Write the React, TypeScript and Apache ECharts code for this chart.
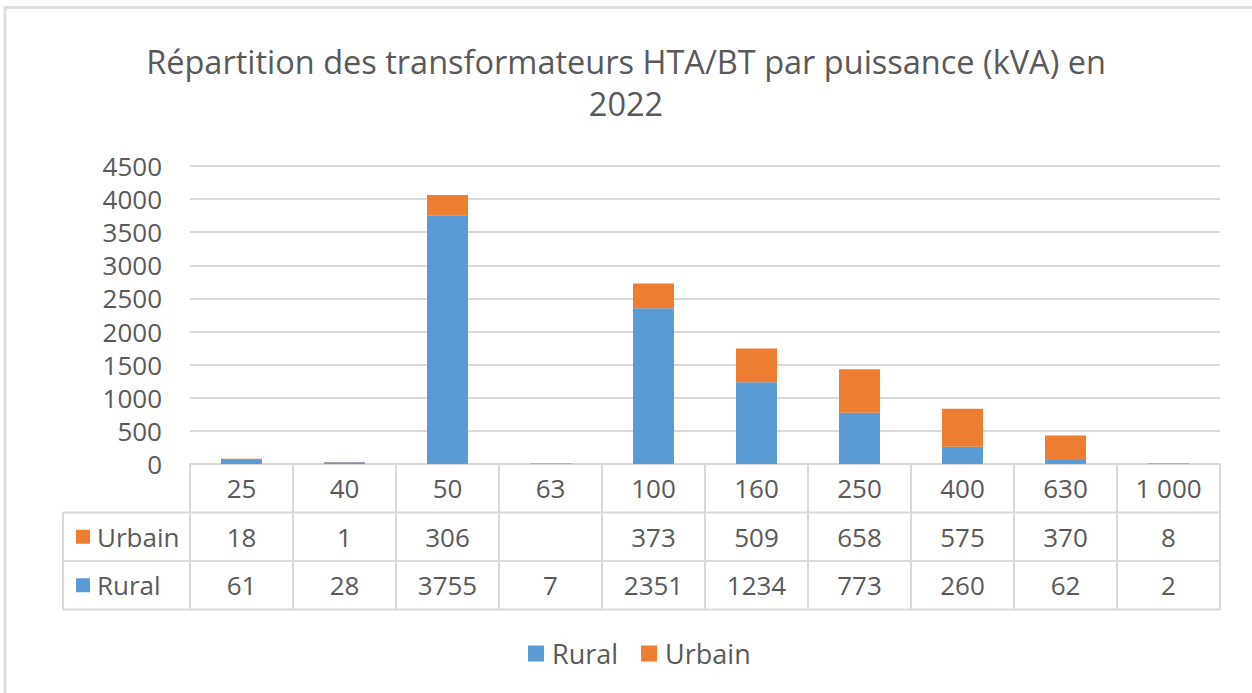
import React, { useEffect, useRef } from "react";
import * as echarts from "echarts";

const titleLines = ["Répartition des transformateurs HTA/BT par puissance (kVA) en", "2022"];
const categories = ["25", "40", "50", "63", "100", "160", "250", "400", "630", "1 000"];
const urbain: (number | null)[] = [18, 1, 306, null, 373, 509, 658, 575, 370, 8];
const rural: (number | null)[] = [61, 28, 3755, 7, 2351, 1234, 773, 260, 62, 2];
const yMin = 0;
const yMax = 4500;
const yInterval = 500;

const BLUE = "#5B9BD5";
const ORANGE = "#ED7D31";
const TEXT = "#595959";
const LINE = "#D9D9D9";
const FONT = "'Open Sans', sans-serif";

export default function App() {
  const ref = useRef<HTMLDivElement>(null);
  useEffect(() => {
    document.body.style.margin = "0";
    const chart = echarts.init(ref.current!, null, { renderer: "svg" });
    chart.setOption({
      animation: false,
      backgroundColor: "#ffffff",
      textStyle: { fontFamily: FONT },
      title: {
        text: titleLines.join("\n"),
        left: "center",
        top: 35,
        padding: [5, 5, 5, 17],
        textStyle: { fontFamily: FONT, fontSize: 32.5, fontWeight: "normal", color: TEXT, lineHeight: 42 },
      },
      legend: {
        data: ["Rural", "Urbain"],
        bottom: 21,
        left: 523,
        itemWidth: 16,
        itemHeight: 16,
        itemGap: 23,
        icon: "rect",
        textStyle: { fontFamily: FONT, fontSize: 27, color: TEXT, padding: [0, 0, 0, 3] },
      },
      grid: { left: 190, right: 32, top: 166, height: 298, containLabel: false },
      xAxis: {
        type: "category",
        data: categories,
        axisLabel: { show: false },
        axisTick: { show: false },
        axisLine: { show: true, lineStyle: { color: LINE, width: 2 } },
      },
      yAxis: {
        type: "value",
        min: yMin,
        max: yMax,
        interval: yInterval,
        axisLabel: {
          fontFamily: FONT,
          fontSize: 26,
          lineHeight: 30,
          color: TEXT,
          margin: 28,
          formatter: (v: number) => String(v),
        },
        axisLine: { show: false },
        axisTick: { show: false },
        splitLine: { lineStyle: { color: LINE, width: 2 } },
      },
      series: [
        { name: "Rural", type: "bar", stack: "total", data: rural, barWidth: 41, itemStyle: { color: BLUE } },
        { name: "Urbain", type: "bar", stack: "total", data: urbain, barWidth: 41, itemStyle: { color: ORANGE } },
      ],
    });

    const centers = categories.map((_, i) => chart.convertToPixel({ xAxisIndex: 0 }, i) as number);
    const colW = centers.length > 1 ? centers[1] - centers[0] : 100;
    const x0 = centers[0] - colW / 2;
    const x1 = centers[centers.length - 1] + colW / 2;
    const yTop = chart.convertToPixel({ yAxisIndex: 0 }, 0) as number;
    const rowH = 48.5;
    const labelLeft = 63;
    const rows = [
      { name: "Urbain", color: ORANGE, values: urbain },
      { name: "Rural", color: BLUE, values: rural },
    ];
    const lineStyle = { stroke: LINE, lineWidth: 2 };
    const cellFont = `26px ${FONT}`;
    const els: any[] = [];
    els.push({ type: "rect", shape: { x: 5, y: 7.5, width: 1300, height: 720 }, style: { fill: "none", stroke: "#DEDEDE", lineWidth: 3 }, silent: true });
    for (let r = 1; r <= 3; r++) {
      const y = yTop + r * rowH;
      els.push({ type: "line", shape: { x1: labelLeft, y1: y, x2: x1, y2: y }, style: lineStyle });
    }
    els.push({ type: "line", shape: { x1: labelLeft, y1: yTop + rowH, x2: labelLeft, y2: yTop + 3 * rowH }, style: lineStyle });
    for (let i = 0; i <= categories.length; i++) {
      const x = x0 + i * colW;
      els.push({ type: "line", shape: { x1: x, y1: yTop, x2: x, y2: yTop + 3 * rowH }, style: lineStyle });
    }
    categories.forEach((c, i) => {
      els.push({
        type: "text",
        x: centers[i],
        y: yTop + rowH / 2,
        style: { text: c, fill: TEXT, font: cellFont, align: "center", verticalAlign: "middle" },
      });
    });
    rows.forEach((row, r) => {
      const cy = yTop + (r + 1.5) * rowH;
      els.push({ type: "rect", shape: { x: 76, y: cy - 7, width: 14, height: 14 }, style: { fill: row.color } });
      els.push({
        type: "text",
        x: 97,
        y: cy,
        style: { text: row.name, fill: TEXT, font: cellFont, align: "left", verticalAlign: "middle" },
      });
      row.values.forEach((v, i) => {
        if (v === null) return;
        els.push({
          type: "text",
          x: centers[i],
          y: cy,
          style: { text: String(v), fill: TEXT, font: cellFont, align: "center", verticalAlign: "middle" },
        });
      });
    });
    chart.setOption({ graphic: { elements: els } });
    return () => chart.dispose();
  }, []);
  return <div ref={ref} style={{ width: 1252, height: 693 }} />;
}
